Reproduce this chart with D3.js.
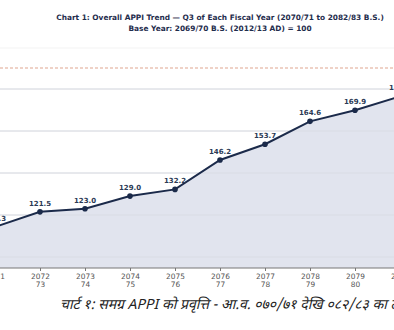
<!DOCTYPE html>
<html>
<head>
<meta charset="utf-8">
<script src="https://cdn.jsdelivr.net/npm/d3@7"></script>
<style>
  body { margin: 0; background: #fff; }
  svg { display: block; }
</style>
</head>
<body>
<svg id="chart" width="394" height="330"></svg>
<script>
// fiscal years (first year of the pair) and Q3 APPI values
var years = [2071, 2072, 2073, 2074, 2075, 2076, 2077, 2078, 2079, 2080];
var tickTop = ['2071', '2072', '2073', '2074', '2075', '2076', '2077', '2078', '2079', '2080'];
var tickBottom = ['72', '73', '74', '75', '76', '77', '78', '79', '80', '81'];
var appi = [114.3, 121.5, 123.0, 129.0, 132.2, 146.2, 153.7, 164.6, 169.9, 176.5];
var gridValues = [100, 120, 140, 160, 180];
var refLine = 190;

var svg = d3.select('#chart');

var x = d3.scaleLinear().domain([2071, 2080]).range([-5, 400]);
var y = d3.scaleLinear().domain([100, 180]).range([257, 89]);
var axisY = 268;

// title
svg.append('text')
  .attr('x', 220).attr('y', 20)
  .attr('text-anchor', 'middle')
  .style('font', 'bold 7.4px "DejaVu Sans", sans-serif')
  .style('fill', '#1f2d4d')
  .text('Chart 1: Overall APPI Trend \u2014 Q3 of Each Fiscal Year (2070/71 to 2082/83 B.S.)');
svg.append('text')
  .attr('x', 220).attr('y', 31)
  .attr('text-anchor', 'middle')
  .style('font', 'bold 7.4px "DejaVu Sans", sans-serif')
  .style('fill', '#1f2d4d')
  .text('Base Year: 2069/70 B.S. (2012/13 AD) = 100');

svg.append('line')
  .attr('x1', 0).attr('x2', 394).attr('y1', 48).attr('y2', 48)
  .style('stroke', '#f3f3f3');

// grid
svg.selectAll('.grid').data(gridValues).enter().append('line')
  .attr('class', 'grid')
  .attr('x1', 0).attr('x2', 394)
  .attr('y1', function (d) { return y(d); })
  .attr('y2', function (d) { return y(d); })
  .style('stroke', '#ececec').style('stroke-width', 1);

// area under the line
var area = d3.area()
  .x(function (d, i) { return x(years[i]); })
  .y0(axisY)
  .y1(function (d) { return y(d); });
svg.append('path')
  .datum(appi)
  .attr('d', area)
  .style('fill', '#e1e4ee');

// grid again, faint over the fill
svg.selectAll('.grid2').data(gridValues).enter().append('line')
  .attr('class', 'grid2')
  .attr('x1', 0).attr('x2', 394)
  .attr('y1', function (d) { return y(d); })
  .attr('y2', function (d) { return y(d); })
  .style('stroke', '#d9dce4').style('stroke-width', 1);

// reference line
svg.append('line')
  .attr('x1', 0).attr('x2', 394)
  .attr('y1', y(refLine)).attr('y2', y(refLine))
  .style('stroke', '#dfa58f').style('stroke-width', 1)
  .style('stroke-dasharray', '3,2');

// x axis
var xAxis = d3.axisBottom(x)
  .tickValues(years)
  .tickSize(3)
  .tickFormat('');
var gx = svg.append('g')
  .attr('transform', 'translate(0,' + axisY + ')')
  .call(xAxis);
gx.select('.domain').remove();
gx.selectAll('.tick line').style('stroke', '#777');
svg.append('line')
  .attr('x1', 0).attr('x2', 394).attr('y1', axisY).attr('y2', axisY)
  .style('stroke', '#777').style('stroke-width', 1);

gx.selectAll('.tick').each(function (d, i) {
  var t = d3.select(this).append('text')
    .attr('text-anchor', 'middle')
    .style('font', '7.4px "DejaVu Sans", sans-serif')
    .style('fill', '#555');
  t.append('tspan').attr('x', 0).attr('y', 11).text(tickTop[i]);
  t.append('tspan').attr('x', 0).attr('y', 19).text(tickBottom[i]);
});

// line and markers
var line = d3.line()
  .x(function (d, i) { return x(years[i]); })
  .y(function (d) { return y(d); });
svg.append('path')
  .datum(appi)
  .attr('d', line)
  .style('fill', 'none')
  .style('stroke', '#1b2a4a')
  .style('stroke-width', 2);

svg.selectAll('.dot').data(appi).enter().append('circle')
  .attr('cx', function (d, i) { return x(years[i]); })
  .attr('cy', function (d) { return y(d); })
  .attr('r', 2.8)
  .style('fill', '#1b2a4a');

svg.selectAll('.lbl').data(appi).enter().append('text')
  .attr('x', function (d, i) { return x(years[i]); })
  .attr('y', function (d) { return y(d) - 6; })
  .attr('text-anchor', 'middle')
  .style('font', 'bold 7px "DejaVu Sans", sans-serif')
  .style('fill', '#2b3a55')
  .text(function (d) { return d.toFixed(1); });

// caption
svg.append('text')
  .attr('x', 60).attr('y', 309)
  .style('font', 'italic 14px "Noto Sans Devanagari", "Lohit Devanagari", "Noto Sans", sans-serif')
  .style('fill', '#222')
  .text('चार्ट १: समग्र APPI को प्रवृत्ति - आ.व. ०७०/७१ देखि ०८२/८३ का तेस्रो त्रैमास');
</script>
</body>
</html>
